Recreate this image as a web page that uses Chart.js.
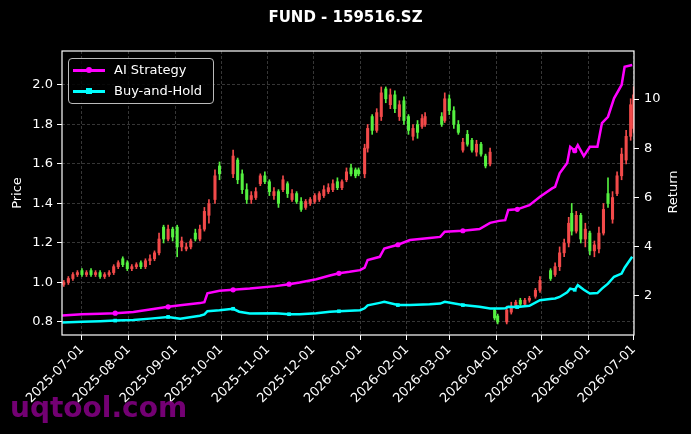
<!DOCTYPE html>
<html lang="en">
<head>
<meta charset="utf-8">
<title>FUND - 159516.SZ</title>
<script src="https://cdn.jsdelivr.net/npm/chart.js@4.4.1/dist/chart.umd.min.js"></script>
<style>
  body { margin: 0; background: #000; }
  #wrap { position: relative; width: 691px; height: 434px; font-family: "DejaVu Sans", sans-serif; }
  #title { position: absolute; top: 8px; left: 0; width: 691px; text-align: center; color: #fff; font-weight: bold; font-size: 15px; }
  #legend { position: absolute; left: 68px; top: 58px; width: 144px; height: 44px; border: 1px solid #bbb; border-radius: 4px; background: rgba(0,0,0,0.85); }
  .sample { position: absolute; left: 4px; width: 32px; height: 2.5px; }
  .dot { position: absolute; left: 13px; top: -2px; width: 6px; height: 6px; }
  .lbl { position: absolute; left: 45px; color: #fff; font-size: 13px; line-height: 16px; }
  #rtitle { position: absolute; left: 643px; top: 184px; width: 60px; text-align: center; color: #fff; font-size: 13px; line-height: 16px; transform: rotate(-90deg); }
  #mark { position: absolute; left: 10px; top: 391px; color: #800080; font-weight: bold; font-size: 28px; opacity: 0.9; }
</style>
</head>
<body>
<div id="wrap">
  <canvas id="chart" width="691" height="434"></canvas>
  <div id="title">FUND - 159516.SZ</div>
  <div id="legend">
    <div class="sample" style="top:10px;background:#ff00ff"><div class="dot" style="background:#ff00ff;border-radius:3px"></div></div>
    <div class="lbl" style="top:3px">AI Strategy</div>
    <div class="sample" style="top:31px;background:#00ffff"><div class="dot" style="background:#00ffff"></div></div>
    <div class="lbl" style="top:24px">Buy-and-Hold</div>
  </div>
  <div id="rtitle">Return</div>
  <div id="mark">uqtool.com</div>
</div>
<script>
// day offsets are counted from 2025-07-01
var startDate = '2025-07-01';
var monthTicks = ['2025-07-01','2025-08-01','2025-09-01','2025-10-01','2025-11-01','2025-12-01',
  '2026-01-01','2026-02-01','2026-03-01','2026-04-01','2026-05-01','2026-06-01','2026-07-01'];
var priceTicks = [0.8, 1.0, 1.2, 1.4, 1.6, 1.8, 2.0];
var returnTicks = [2, 4, 6, 8, 10];

var candleDay = [-12,-9,-6,-3,0,3,6,9,12,15,18,21,24,27,30,33,36,39,42,45,48,51,54,57,60,63,66,69,72,75,78,81,84,88,91,
  100,103,106,109,112,115,118,121,124,127,130,133,136,139,142,145,148,151,154,157,160,163,166,169,172,175,178,181,183,
  187,189,192,195,198,201,204,207,210,213,216,219,222,225,227,
  238,240,243,246,249,252,255,258,261,264,267,270,
  273,275,281,284,287,290,293,296,300,303,
  310,313,316,319,322,324,327,330,333,336,339,342,345,348,351,354,357,360,363,365];
var openP = [0.99,1.00,1.02,1.04,1.06,1.04,1.06,1.04,1.05,1.03,1.04,1.05,1.08,1.12,1.10,1.07,1.08,1.10,1.08,1.11,1.12,1.15,1.28,1.22,1.27,1.28,1.18,1.17,1.18,1.25,1.22,1.27,1.34,1.42,1.59,
  1.55,1.62,1.55,1.47,1.42,1.43,1.50,1.54,1.51,1.44,1.46,1.47,1.50,1.42,1.45,1.41,1.38,1.40,1.41,1.42,1.44,1.46,1.47,1.51,1.48,1.52,1.58,1.57,1.57,
  1.55,1.68,1.84,1.77,1.84,1.98,1.90,1.95,1.84,1.92,1.84,1.74,1.80,1.79,1.80,
  1.84,1.82,1.93,1.87,1.80,1.67,1.75,1.72,1.66,1.70,1.64,1.60,
  0.86,0.83,0.80,0.85,0.88,0.91,0.89,0.91,0.93,0.96,
  1.06,1.04,1.08,1.15,1.20,1.35,1.26,1.34,1.22,1.25,1.16,1.17,1.25,1.45,1.32,1.45,1.54,1.62,1.74,1.78];
var highP = [1.01,1.03,1.05,1.06,1.07,1.06,1.07,1.06,1.06,1.05,1.06,1.09,1.11,1.13,1.11,1.09,1.10,1.11,1.12,1.14,1.16,1.25,1.29,1.29,1.28,1.29,1.23,1.20,1.22,1.27,1.29,1.38,1.42,1.57,1.61,
  1.67,1.63,1.57,1.50,1.46,1.48,1.55,1.56,1.52,1.48,1.47,1.54,1.51,1.47,1.46,1.43,1.42,1.43,1.45,1.46,1.49,1.50,1.52,1.53,1.52,1.58,1.60,1.58,1.58,
  1.70,1.80,1.85,1.88,1.99,1.99,1.98,1.97,1.92,1.94,1.85,1.80,1.82,1.85,1.86,
  1.86,1.96,1.95,1.89,1.82,1.73,1.77,1.73,1.72,1.71,1.65,1.68,
  0.87,0.84,0.88,0.90,0.91,0.92,0.92,0.93,0.97,1.03,
  1.07,1.10,1.18,1.22,1.33,1.40,1.36,1.35,1.30,1.26,1.21,1.28,1.40,1.53,1.46,1.56,1.68,1.77,1.93,1.99];
var lowP = [0.98,0.99,1.01,1.03,1.03,1.03,1.03,1.03,1.02,1.02,1.03,1.04,1.07,1.08,1.06,1.06,1.07,1.07,1.07,1.09,1.11,1.14,1.20,1.21,1.21,1.13,1.16,1.16,1.17,1.21,1.21,1.26,1.30,1.40,1.52,
  1.53,1.50,1.45,1.40,1.40,1.42,1.49,1.50,1.44,1.42,1.38,1.46,1.43,1.41,1.40,1.36,1.37,1.39,1.40,1.41,1.43,1.45,1.46,1.47,1.47,1.51,1.54,1.53,1.54,
  1.53,1.66,1.75,1.76,1.82,1.91,1.88,1.86,1.82,1.80,1.75,1.72,1.73,1.78,1.79,
  1.79,1.81,1.85,1.78,1.75,1.66,1.69,1.66,1.64,1.64,1.58,1.59,
  0.81,0.79,0.79,0.84,0.87,0.88,0.88,0.90,0.92,0.95,
  1.01,1.03,1.06,1.13,1.18,1.24,1.25,1.20,1.18,1.14,1.13,1.15,1.24,1.38,1.30,1.44,1.52,1.60,1.72,1.76];
var closeP = [1.00,1.02,1.04,1.05,1.04,1.05,1.04,1.05,1.03,1.04,1.05,1.08,1.10,1.09,1.07,1.08,1.09,1.08,1.11,1.12,1.15,1.22,1.22,1.27,1.23,1.18,1.21,1.18,1.21,1.22,1.27,1.36,1.40,1.54,1.55,
  1.64,1.52,1.47,1.42,1.44,1.46,1.54,1.51,1.46,1.46,1.40,1.52,1.45,1.45,1.41,1.37,1.41,1.42,1.44,1.45,1.47,1.48,1.50,1.48,1.51,1.56,1.55,1.54,1.55,
  1.68,1.78,1.77,1.86,1.96,1.93,1.95,1.88,1.90,1.82,1.77,1.78,1.76,1.83,1.84,
  1.80,1.93,1.87,1.80,1.76,1.71,1.70,1.67,1.70,1.65,1.59,1.66,
  0.82,0.80,0.86,0.88,0.90,0.89,0.91,0.92,0.96,1.01,
  1.02,1.08,1.15,1.20,1.30,1.26,1.34,1.22,1.27,1.16,1.19,1.25,1.37,1.40,1.43,1.54,1.65,1.74,1.90,1.95];

var lineDay = [-13,0,12,22,34,45,57,65,78,81,83,91,100,104,111,128,137,144,155,164,170,177,184,187,189,197,200,209,217,230,237,240,
  252,263,270,276,280,282,288,296,303,311,313,316,321,323,326,328,332,336,341,344,348,352,357,359,364];
var aiReturn = [1.21,1.26,1.28,1.30,1.35,1.45,1.56,1.62,1.71,1.75,2.11,2.21,2.25,2.27,2.30,2.40,2.48,2.55,2.68,2.83,2.92,2.98,3.05,3.15,3.46,3.59,3.93,4.08,4.27,4.35,4.40,4.61,
  4.65,4.72,4.97,5.05,5.08,5.49,5.52,5.69,6.03,6.37,6.43,6.98,7.40,8.06,7.90,8.13,7.68,8.06,8.06,9.02,9.28,10.03,10.57,11.31,11.38];
var bhReturn = [0.92,0.95,0.97,1.00,1.02,1.08,1.15,1.08,1.20,1.25,1.38,1.42,1.48,1.36,1.29,1.30,1.26,1.26,1.30,1.36,1.38,1.40,1.42,1.50,1.62,1.72,1.76,1.63,1.63,1.66,1.69,1.76,
  1.63,1.56,1.49,1.49,1.50,1.56,1.55,1.60,1.83,1.89,1.90,1.96,2.15,2.30,2.25,2.44,2.25,2.10,2.12,2.30,2.50,2.78,2.91,3.15,3.59];
var markerDays = [22, 57, 100, 137, 170, 209, 252, 288, 326];

var UP = '#f24a4a', DOWN = '#55f040';
var t0 = Date.parse(startDate);
function dayOf(s) { return Math.round((Date.parse(s) - t0) / 86400000); }
var monthDays = monthTicks.map(dayOf);

var wicks = [], bodies = [], colors = [];
for (var i = 0; i < candleDay.length; i++) {
  wicks.push({ x: candleDay[i], y: [lowP[i], highP[i]] });
  bodies.push({ x: candleDay[i], y: [openP[i], closeP[i]] });
  colors.push(closeP[i] >= openP[i] ? UP : DOWN);
}
var aiPts = lineDay.map(function (d, i) { return { x: d, y: aiReturn[i] }; });
var bhPts = lineDay.map(function (d, i) { return { x: d, y: bhReturn[i] }; });
function markerSize(ctx) { return markerDays.indexOf(lineDay[ctx.dataIndex]) >= 0 ? 2.6 : 0; }

var font = { family: 'DejaVu Sans', size: 13 };
var gridCol = 'rgba(150,150,150,0.45)';

var frame = {
  id: 'frame',
  afterDatasetsDraw: function (chart) {
    var a = chart.chartArea, c = chart.ctx;
    c.save();
    c.strokeStyle = '#ffffff';
    c.lineWidth = 1.2;
    c.strokeRect(a.left, a.top, a.right - a.left, a.bottom - a.top);
    c.restore();
  }
};

new Chart(document.getElementById('chart'), {
  type: 'bar',
  data: {
    datasets: [
      { type: 'line', label: 'AI Strategy', data: aiPts, yAxisID: 'y1', borderColor: '#ff00ff', backgroundColor: '#ff00ff',
        borderWidth: 2.5, pointStyle: 'circle', pointRadius: markerSize, pointBorderWidth: 0, tension: 0, order: 0 },
      { type: 'line', label: 'Buy-and-Hold', data: bhPts, yAxisID: 'y1', borderColor: '#00ffff', backgroundColor: '#00ffff',
        borderWidth: 2.5, pointStyle: 'rect', pointRadius: markerSize, pointBorderWidth: 0, tension: 0, order: 0 },
      { label: 'wick', data: wicks, yAxisID: 'y', backgroundColor: colors, barThickness: 1, grouped: false, borderWidth: 0, order: 2 },
      { label: 'body', data: bodies, yAxisID: 'y', backgroundColor: colors, barThickness: 2.4, grouped: false, borderWidth: 0, order: 1 }
    ]
  },
  options: {
    responsive: false,
    animation: false,
    devicePixelRatio: 1,
    layout: { padding: { top: 51, left: 0, right: 0, bottom: 0 } },
    plugins: { legend: { display: false }, tooltip: { enabled: false } },
    scales: {
      x: {
        type: 'linear', min: -13.2, max: 365.2, offset: false,
        afterFit: function (s) { s.height = 99; },
        afterBuildTicks: function (s) { s.ticks = monthDays.map(function (v) { return { value: v }; }); },
        ticks: { color: '#fff', font: font, autoSkip: false, minRotation: 45, maxRotation: 45, padding: 2,
          callback: function (v, i) { return monthTicks[i]; } },
        grid: { color: gridCol, lineWidth: 0.8, offset: false, tickColor: '#fff', tickLength: 5, tickWidth: 1 },
        border: { display: false, dash: [3, 2] }
      },
      y: {
        position: 'left', min: 0.734, max: 2.172, beginAtZero: false,
        afterFit: function (s) { s.width = 62; },
        afterBuildTicks: function (s) { s.ticks = priceTicks.map(function (v) { return { value: v }; }); },
        ticks: { color: '#fff', font: font, padding: 4, callback: function (v) { return v.toFixed(1); } },
        grid: { color: gridCol, lineWidth: 0.8, tickColor: '#fff', tickLength: 5, tickWidth: 1 },
        border: { display: false, dash: [3, 2] },
        title: { display: true, text: 'Price', color: '#fff', font: font, padding: { top: 10, bottom: 0 } }
      },
      y1: {
        position: 'right', min: 0.415, max: 11.95, beginAtZero: false,
        afterFit: function (s) { s.width = 57; },
        afterBuildTicks: function (s) { s.ticks = returnTicks.map(function (v) { return { value: v }; }); },
        ticks: { color: '#fff', font: font, padding: 5 },
        grid: { drawOnChartArea: false, tickColor: '#fff', tickLength: 5, tickWidth: 1 },
        border: { display: false }
      }
    }
  },
  plugins: [frame]
});
</script>
</body>
</html>
